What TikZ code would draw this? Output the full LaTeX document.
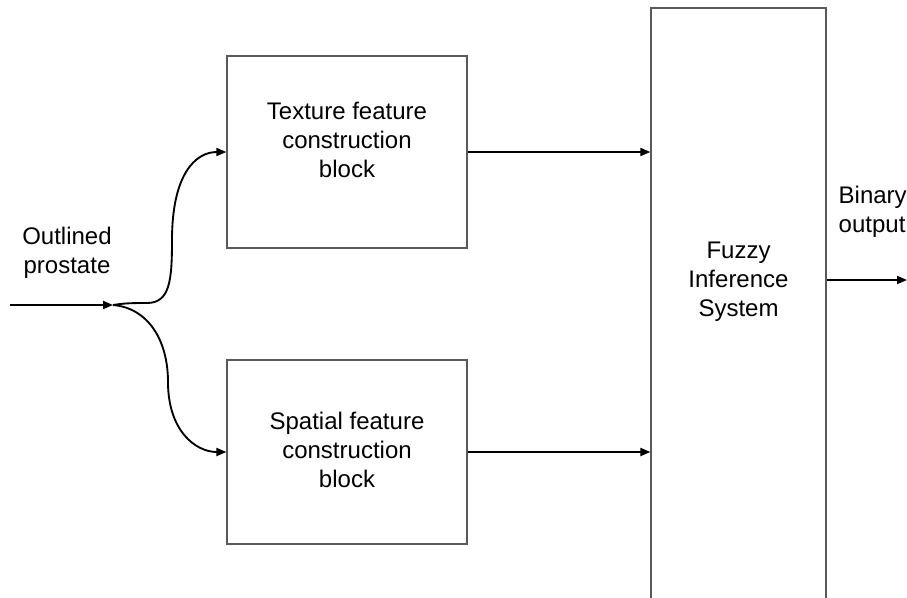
\documentclass[tikz,border=0pt]{standalone}
\usepackage{fontspec}
\setmainfont{Liberation Sans}
\usetikzlibrary{arrows.meta}
\begin{document}
\begin{tikzpicture}[x=0.75pt,y=-0.75pt,
  box/.style={draw=black!65,line width=0.9pt,fill=none,inner sep=0pt},
  txt/.style={font=\fontsize{18}{21.75}\selectfont,align=center,text=black},
  conn/.style={line width=1.4pt,-{Triangle[length=7.5pt,width=6pt]}}]
\useasboundingbox (0,0) rectangle (907,597);
\node[box,minimum width=180pt,minimum height=144pt,
  label={[txt,yshift=9pt]center:Texture feature\\construction\\block}] (b1) at (347,152) {};
\node[box,minimum width=180pt,minimum height=138pt,
  label={[txt,yshift=1.5pt]center:Spatial feature\\construction\\block}] (b2) at (347,452) {};
\node[box,minimum width=131.25pt,minimum height=459pt,
  label={[txt,yshift=24pt]center:Fuzzy\\Inference\\System}] (fis) at (738.5,314) {};
\node[txt] (inl) at (67,253) {Outlined\\prostate};
\node[txt,align=left,anchor=west] (outl) at (834,212) {Binary\\output};
\coordinate (in) at (10,305);
\coordinate (j) at (113,305);
\coordinate (out) at (907,280);
\draw[conn] (in) -- (j);
\draw[conn] (j) .. controls (125,303) and (135,303) .. (147,303)
  .. controls (170,303) and (172,280) .. (172,240)
  .. controls (172,175) and (195,152) .. (b1.west);
\draw[conn] (j) .. controls (148,308) and (168,340) .. (168,382)
  .. controls (168,430) and (195,452) .. (b2.west);
\draw[conn] (b1.east) -- (b1.east -| fis.west);
\draw[conn] (b2.east) -- (b2.east -| fis.west);
\draw[conn] (fis.east |- out) -- (out);
\end{tikzpicture}
\end{document}
